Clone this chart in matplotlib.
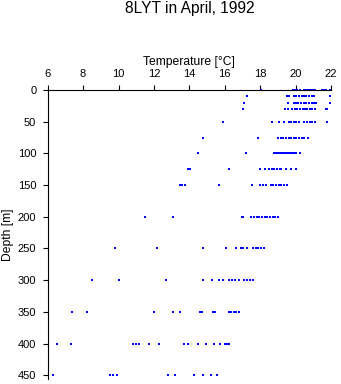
import matplotlib
matplotlib.use("Agg")
import matplotlib.pyplot as plt

plt.rcParams['font.family'] = ['Liberation Sans', 'DejaVu Sans']

depth_levels = [0, 10, 20, 30, 50, 75, 100, 125, 150, 200, 250, 300, 350, 400, 450]

temp_0 = [18.05, 19.85, 19.95, 20.1, 20.25, 20.5, 20.6, 20.7, 20.8, 20.9, 21.0, 21.1, 21.5, 21.6, 21.7, 21.95]
temp_10 = [17.25, 19.5, 19.65, 19.9, 20.05, 20.2, 20.35, 20.5, 20.6, 20.75, 20.9, 21.05, 21.95]
temp_20 = [17.1, 19.55, 19.9, 20.0, 20.15, 20.3, 20.45, 20.6, 20.75, 20.9, 21.05, 21.15, 21.95]
temp_30 = [17.05, 19.4, 19.55, 19.8, 19.95, 20.1, 20.25, 20.4, 20.55, 20.65, 20.8, 20.95, 21.1, 21.7, 21.8]
temp_50 = [15.9, 18.65, 19.05, 19.35, 19.6, 19.75, 19.9, 20.05, 20.2, 20.5, 20.65, 20.8, 20.95, 21.1, 21.75]
temp_75 = [14.75, 17.85, 19.0, 19.15, 19.3, 19.45, 19.6, 19.75, 19.9, 20.05, 20.2, 20.35, 20.5, 20.7]
temp_100 = [14.5, 17.2, 18.8, 18.9, 19.0, 19.1, 19.2, 19.3, 19.4, 19.5, 19.6, 19.7, 19.8, 19.9, 20.0, 20.05, 20.25]
temp_125 = [13.9, 14.05, 16.25, 18.0, 18.3, 18.5, 18.65, 18.8, 18.95, 19.1, 19.15, 19.45, 19.75, 20.05]
temp_150 = [13.45, 13.6, 13.75, 15.65, 17.55, 18.0, 18.15, 18.35, 18.6, 18.75, 18.9, 19.05, 19.2, 19.35, 19.5]
temp_200 = [11.5, 13.1, 16.95, 17.05, 17.5, 17.65, 17.8, 17.95, 18.1, 18.25, 18.4, 18.55, 18.7, 18.85, 19.0]
temp_250 = [9.8, 12.2, 14.75, 16.05, 16.65, 16.9, 17.05, 17.25, 17.6, 17.75, 17.9, 18.05, 18.2]
temp_300 = [8.5, 10.0, 12.7, 14.75, 15.3, 15.65, 15.9, 16.25, 16.4, 16.55, 16.8, 17.1, 17.25, 17.4, 17.6]
temp_350 = [7.4, 8.2, 12.0, 13.1, 13.45, 14.6, 14.7, 15.35, 15.45, 16.25, 16.35, 16.5, 16.65, 16.8]
temp_400 = [6.5, 7.3, 10.8, 11.0, 11.15, 11.7, 12.3, 13.7, 13.95, 14.5, 14.95, 15.4, 15.75, 16.0, 16.15, 16.25]
temp_450 = [6.3, 9.5, 9.7, 9.9, 12.8, 13.2, 14.25, 14.75, 15.25, 15.55]

temps_by_level = [temp_0, temp_10, temp_20, temp_30, temp_50, temp_75, temp_100,
                  temp_125, temp_150, temp_200, temp_250, temp_300, temp_350,
                  temp_400, temp_450]

x_ticks = [6, 8, 10, 12, 14, 16, 18, 20, 22]
y_ticks = [0, 50, 100, 150, 200, 250, 300, 350, 400, 450]

fig = plt.figure(figsize=(3.41, 3.84), dpi=100)
ax = fig.add_axes([47.7 / 341, 1 - 379 / 384, (331 - 47.7) / 341, (379 - 90) / 384])

for d, ts in zip(depth_levels, temps_by_level):
    ax.plot(ts, [d] * len(ts), linestyle='none', marker='s', markersize=2.0,
            markeredgewidth=0, color='#0000ff', clip_on=False)

ax.set_xlim(6, 22)
ax.set_ylim(456, 0)
ax.xaxis.tick_top()
ax.xaxis.set_label_position('top')
ax.set_xticks(x_ticks)
ax.set_yticks(y_ticks)
ax.tick_params(axis='both', direction='out', length=3.6, width=0.8, labelsize=8, colors='black')
ax.tick_params(axis='x', pad=4.2)
ax.tick_params(axis='y', pad=4.6)
for s in ['right', 'bottom']:
    ax.spines[s].set_visible(False)
for s in ['left', 'top']:
    ax.spines[s].set_linewidth(0.8)

ax.set_xlabel('Temperature [°C]', fontsize=8.7, labelpad=3)
ax.set_ylabel('Depth [m]', fontsize=8.7, labelpad=3)

fig.text(189.5 / 341, 1 - 8.5 / 384, '8LYT in April, 1992', ha='center', va='center', fontsize=11.2)

fig.savefig('out.png', dpi=100)
